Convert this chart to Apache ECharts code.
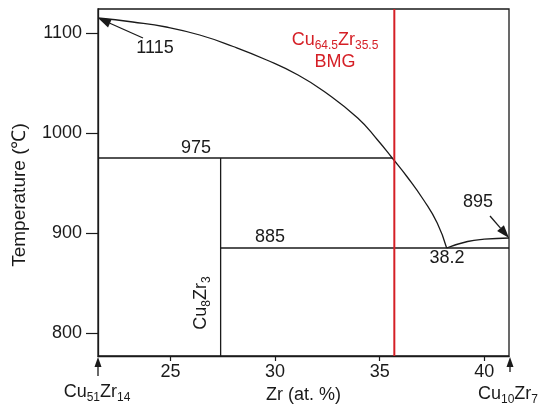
<!DOCTYPE html>
<html><head><meta charset="utf-8">
<script src="https://cdn.jsdelivr.net/npm/echarts@6/dist/echarts.min.js"></script>
<style>html,body{margin:0;padding:0;background:#fff}#c{width:541px;height:405px}</style>
</head><body><div id="c"></div>
<script>
// ---- data ----
const xTicks = [25, 30, 35, 40];
const yTicks = [800, 900, 1000, 1100];
const xRange = [21.54, 41.18];
const yRange = [777, 1124];
const liquidusLeft = [[21.54,1115],[23.2,1111],[24.8,1106],[26.4,1098],[28.0,1086.5],[29.6,1073],[31.1,1058],[32.35,1041.5],[33.95,1015],[34.9,993],[35.6,975],[36.3,956.5],[37.1,933],[37.75,910],[38.2,885]];
const liquidusRight = [[38.2,885],[39.2,891.5],[40.0,893.8],[41.18,895]];
const line975 = [[21.54,975],[35.6,975]];
const cu8zr3Line = [[27.4,777],[27.4,975]];
const line885 = [[27.4,885],[41.18,885]];
const bmgLine = [[35.7,777],[35.7,1124]];

const FONT = 'Liberation Sans, Arial, sans-serif';
const INK = '#1a1a1a';
const RED = '#d51f26';

const chart = echarts.init(document.getElementById('c'), null, {renderer: 'canvas'});
const blackLine = (data, smooth) => ({
  type: 'line', data, symbol: 'none', smooth: smooth || false, silent: true,
  lineStyle: {color: INK, width: 1.3}, z: 3, animation: false
});
chart.setOption({
  animation: false,
  backgroundColor: '#fff',
  grid: {left: 98, right: 32, top: 9, bottom: 49, show: true, borderColor: INK, borderWidth: 1.3, outerBoundsMode: 'none', containLabel: false},
  xAxis: {
    type: 'value', min: xRange[0], max: xRange[1],
    name: 'Zr (at. %)', nameLocation: 'middle', nameGap: 29,
    nameTextStyle: {fontFamily: FONT, fontSize: 18, color: INK},
    axisLine: {lineStyle: {color: INK, width: 1.3}},
    axisTick: {show: true, length: 5, lineStyle: {color: INK, width: 1.2}, customValues: xTicks},
    axisLabel: {fontFamily: FONT, fontSize: 18, color: INK, margin: 7, customValues: xTicks, formatter: (v) => String(v)},
    splitLine: {show: false}
  },
  yAxis: {
    type: 'value', min: yRange[0], max: yRange[1],
    axisLine: {show: true, lineStyle: {color: INK, width: 1.3}},
    axisTick: {show: true, length: 12, lineStyle: {color: INK, width: 1.2}, customValues: yTicks},
    axisLabel: {fontFamily: FONT, fontSize: 18, color: INK, margin: 16, customValues: yTicks, formatter: (v) => String(v)},
    splitLine: {show: false}
  },
  series: [
    blackLine(liquidusLeft, 0.5),
    blackLine(liquidusRight, 0.5),
    blackLine(line975),
    blackLine(cu8zr3Line),
    blackLine(line885),
    {type: 'line', data: bmgLine, symbol: 'none', silent: true, lineStyle: {color: RED, width: 2}, z: 5}
  ]
});

const px = (pt) => chart.convertToPixel({gridIndex: 0}, pt);
function arrow(from, to, hl, hw) {
  const dx = to[0] - from[0], dy = to[1] - from[1];
  const L = Math.sqrt(dx*dx + dy*dy), ux = dx / L, uy = dy / L;
  const bx = to[0] - ux * hl, by = to[1] - uy * hl;
  const nx = -uy * hw / 2, ny = ux * hw / 2;
  return [
    {type: 'line', shape: {x1: from[0], y1: from[1], x2: bx, y2: by}, style: {stroke: INK, lineWidth: 1.3}, silent: true, z: 10},
    {type: 'polygon', shape: {points: [[to[0], to[1]], [bx + nx, by + ny], [bx - nx, by - ny]]}, style: {fill: INK}, silent: true, z: 10}
  ];
}
function txt(x, y, text, opts) {
  opts = opts || {};
  return {type: 'text', x, y, rotation: opts.rotation || 0, silent: true, z: 10,
    style: {text, fill: opts.color || INK, font: (opts.size || 18) + 'px ' + FONT, align: 'center', verticalAlign: 'middle', rich: opts.rich}};
}
const richSub = (color) => ({
  m: {fontSize: 18, fontFamily: FONT, fill: color, lineHeight: 24, verticalAlign: 'middle'},
  s: {fontSize: 12, fontFamily: FONT, fill: color, lineHeight: 12, verticalAlign: 'bottom'}
});

const pStart = px(liquidusLeft[0]);
const pEnd = px(liquidusRight[liquidusRight.length - 1]);
const pBL = px([xRange[0], yRange[0]]);
const pBR = px([xRange[1], yRange[0]]);

let g = [];
g = g.concat(arrow([143, 38], pStart, 13, 9));
g = g.concat(arrow([490, 216], pEnd, 13, 9));
g = g.concat(arrow([pBL[0], pBL[1] + 20], [pBL[0], pBL[1] + 1], 10, 7));
g = g.concat(arrow([pBR[0] + 1, pBR[1] + 16], [pBR[0] + 1, pBR[1] + 1], 10, 7));
g.push(txt(155, 48, '1115'));
g.push(txt(196, 148, '975'));
g.push(txt(270, 237, '885'));
g.push(txt(447, 258, '38.2'));
g.push(txt(478, 202, '895'));
g.push(txt(20, 195, 'Temperature (℃)', {rotation: Math.PI / 2, size: 19}));
g.push(txt(201, 303, '{m|Cu}{s|8}{m|Zr}{s|3}', {rotation: Math.PI / 2, rich: richSub(INK)}));
g.push(txt(335, 40, '{m|Cu}{s|64.5}{m|Zr}{s|35.5}', {color: RED, rich: richSub(RED)}));
g.push(txt(335, 62, 'BMG', {color: RED}));
g.push(txt(97, 392, '{m|Cu}{s|51}{m|Zr}{s|14}', {rich: richSub(INK)}));
g.push(txt(508, 394, '{m|Cu}{s|10}{m|Zr}{s|7}', {rich: richSub(INK)}));
chart.setOption({graphic: g});
</script></body></html>
